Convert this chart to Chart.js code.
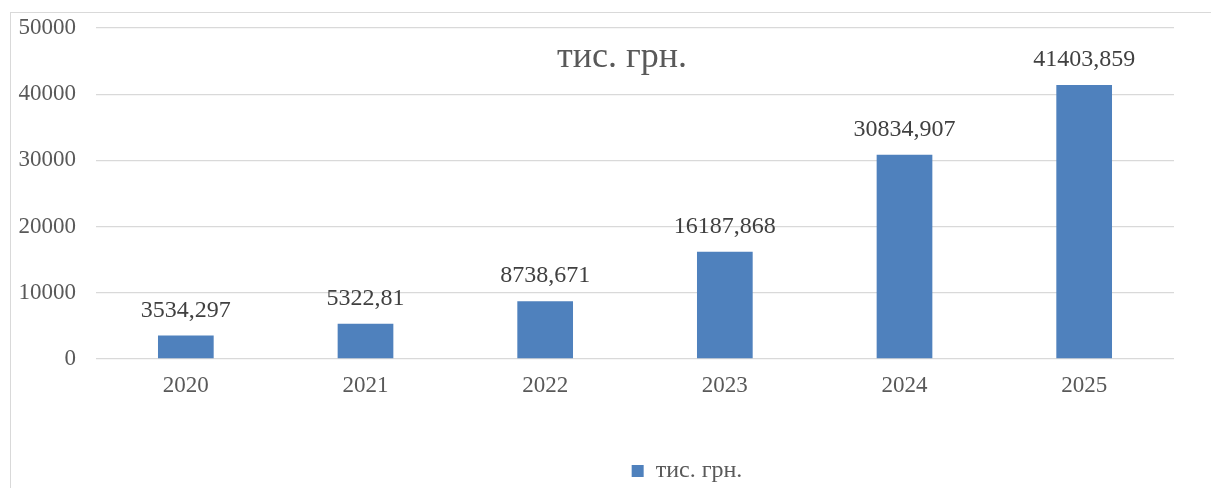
<!DOCTYPE html>
<html>
<head>
<meta charset="utf-8">
<script src="https://cdn.jsdelivr.net/npm/chart.js@4"></script>
<style>
    html, body { margin: 0; padding: 0; background: #ffffff; overflow: hidden; }
    #box {
        position: absolute;
        left: 10px;
        top: 12px;
        width: 1352px;
        height: 500px;
        border: 1px solid #d9d9d9;
    }
</style>
</head>
<body>
<div id="box"><canvas id="chart"></canvas></div>
<script>
var years = ['2020', '2021', '2022', '2023', '2024', '2025'];
var values = [3534.297, 5322.81, 8738.671, 16187.868, 30834.907, 41403.859];
var seriesName = 'тис. грн.';
var yTicks = [0, 10000, 20000, 30000, 40000, 50000];

var serif = '"Liberation Serif", "Times New Roman", serif';

// подписи значений над столбцами и заголовок внутри области графика
var labelsPlugin = {
    id: 'labelsPlugin',
    afterDatasetsDraw: function (chart) {
        var ctx = chart.ctx;
        var meta = chart.getDatasetMeta(0);
        ctx.save();
        ctx.font = '24px ' + serif;
        ctx.fillStyle = '#404040';
        ctx.textAlign = 'center';
        ctx.textBaseline = 'middle';
        meta.data.forEach(function (bar, i) {
            var txt = String(values[i]).replace('.', ',');
            ctx.fillText(txt, bar.x, bar.y - 25);
        });
        ctx.font = '36px ' + serif;
        ctx.fillStyle = '#595959';
        ctx.fillText(seriesName, 611, 45);
        ctx.restore();
    }
};

var ctx = document.getElementById('chart').getContext('2d');
var chart = new Chart(ctx, {
    type: 'bar',
    data: {
        labels: years,
        datasets: [{
            label: seriesName,
            data: values,
            backgroundColor: '#4f81bd',
            borderWidth: 0,
            categoryPercentage: 1,
            barPercentage: 0.31
        }]
    },
    options: {
        responsive: true,
        maintainAspectRatio: false,
        animation: false,
        layout: {
            padding: { left: 0, right: 0, top: 0, bottom: 20 }
        },
        plugins: {
            title: { display: false },
            tooltip: { enabled: false },
            legend: {
                position: 'bottom',
                labels: {
                    boxWidth: 12,
                    boxHeight: 12,
                    padding: 10,
                    color: '#595959',
                    font: { family: serif, size: 24 }
                }
            }
        },
        scales: {
            x: {
                grid: { display: false, drawTicks: false },
                border: { display: false },
                ticks: {
                    color: '#595959',
                    padding: 13,
                    font: { family: serif, size: 23 }
                },
                afterFit: function (scale) { scale.height = 90; }
            },
            y: {
                min: 0,
                max: 50000,
                afterBuildTicks: function (scale) {
                    scale.ticks = yTicks.map(function (v) { return { value: v }; });
                },
                grid: { color: '#d9d9d9', lineWidth: 1.3, drawTicks: false },
                border: { display: false },
                ticks: {
                    color: '#595959',
                    padding: 20,
                    font: { family: serif, size: 23 },
                    callback: function (v) { return String(v); }
                },
                afterFit: function (scale) {
                    scale.width = 85;
                    scale.paddingTop = 15;
                }
            },
            // пустая ось справа, чтобы легенда стояла по центру всей рамки
            yRight: {
                position: 'right',
                grid: { display: false, drawTicks: false },
                border: { display: false },
                ticks: { display: false },
                afterFit: function (scale) { scale.width = 189; }
            }
        }
    },
    plugins: [labelsPlugin]
});
</script>
</body>
</html>
